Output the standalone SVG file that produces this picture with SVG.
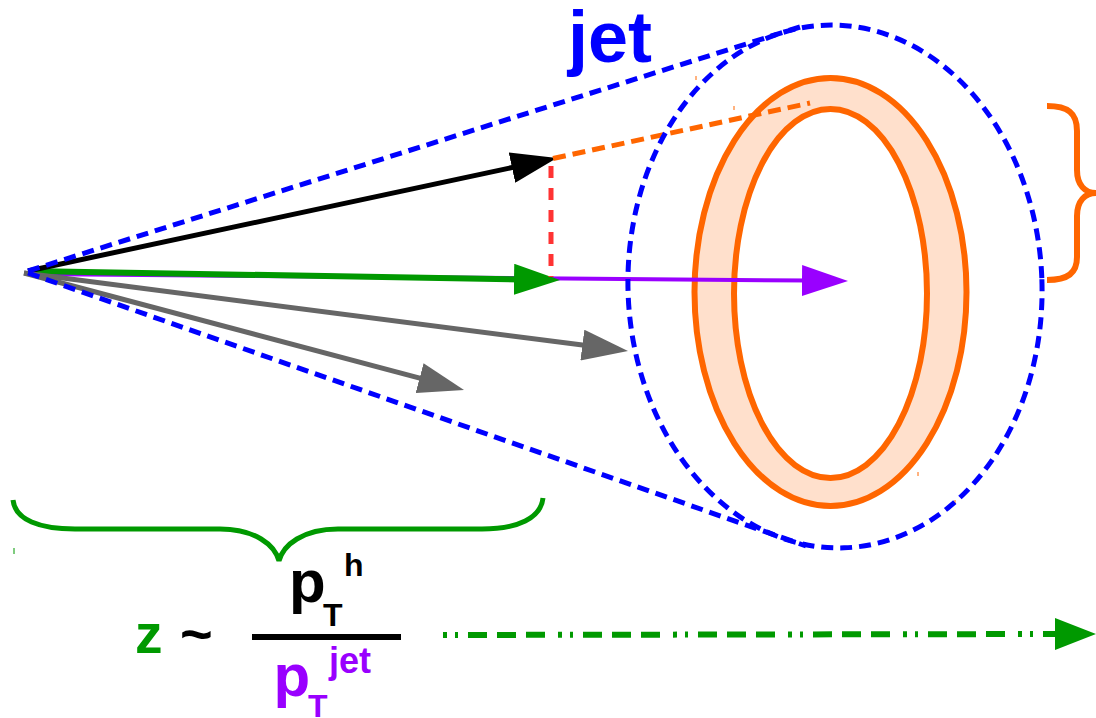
<svg xmlns="http://www.w3.org/2000/svg" width="1096" height="718" viewBox="0 0 1096 718">
<style>
  .blue { fill: none; stroke: #0000ff; stroke-width: 5; stroke-dasharray: 12 7; }
  .ring { stroke: #ff6600; stroke-width: 6; }
  .t { font-family: "Liberation Sans", Arial, sans-serif; font-weight: bold; }
</style>
<defs>
  <marker id="hBlack" markerUnits="userSpaceOnUse" markerWidth="46" markerHeight="31" viewBox="0 0 46 31" refX="8" refY="15.5" orient="auto"><path d="M0,0 L46,15.5 L0,31 Z" fill="#000000"/></marker>
  <marker id="hGreen" markerUnits="userSpaceOnUse" markerWidth="46" markerHeight="31" viewBox="0 0 46 31" refX="8" refY="15.5" orient="auto"><path d="M0,0 L46,15.5 L0,31 Z" fill="#009900"/></marker>
  <marker id="hPurple" markerUnits="userSpaceOnUse" markerWidth="46" markerHeight="31" viewBox="0 0 46 31" refX="8" refY="15.5" orient="auto"><path d="M0,0 L46,15.5 L0,31 Z" fill="#9900ff"/></marker>
  <marker id="hGray" markerUnits="userSpaceOnUse" markerWidth="46" markerHeight="31" viewBox="0 0 46 31" refX="8" refY="15.5" orient="auto"><path d="M0,0 L46,15.5 L0,31 Z" fill="#666666"/></marker>
  <marker id="hGreenBig" markerUnits="userSpaceOnUse" markerWidth="41" markerHeight="32" viewBox="0 0 41 32" refX="6" refY="16" orient="auto"><path d="M0,0 L41,16 L0,32 Z" fill="#009900"/></marker>
</defs>
<rect width="1096" height="718" fill="#ffffff"/>

<g id="ring">
  <ellipse class="ring" cx="830.5" cy="292" rx="136" ry="214" fill="#ffe0cc"/>
  <ellipse class="ring" cx="830.5" cy="293.5" rx="96.5" ry="184.5" fill="#ffffff"/>
  <g stroke="#ff6600" stroke-width="1">
    <line x1="696" y1="76" x2="696" y2="80"/>
    <line x1="734" y1="106" x2="734" y2="110"/>
    <line x1="918" y1="472" x2="918" y2="476"/>
    <line x1="955" y1="500" x2="955" y2="504"/>
  </g>
</g>

<g id="connectors">
  <line id="jet-axis" x1="28" y1="274" x2="810" y2="280.6" stroke="#9900ff" stroke-width="4" marker-end="url(#hPurple)"/>
  <line id="hadron-proj" x1="28" y1="271" x2="522" y2="279.4" stroke="#009900" stroke-width="6" marker-end="url(#hGreen)"/>
  <line id="hadron" x1="28" y1="271" x2="519.8" y2="165.9" stroke="#000000" stroke-width="5" marker-end="url(#hBlack)"/>
  <line id="gray1" x1="24" y1="273" x2="590.3" y2="346.1" stroke="#666666" stroke-width="5" marker-end="url(#hGray)"/>
  <line id="gray2" x1="24" y1="273" x2="427.3" y2="380.2" stroke="#666666" stroke-width="5" marker-end="url(#hGray)"/>
  <line id="red-proj" x1="551" y1="166" x2="551" y2="277" stroke="#ff3333" stroke-width="5" stroke-dasharray="12 10"/>
  <line id="orange-ext" x1="553" y1="158.5" x2="810" y2="103" stroke="#ff6600" stroke-width="5" stroke-dasharray="13 7"/>
  <line id="z-arrow" x1="443" y1="635" x2="1061" y2="634" stroke="#009900" stroke-width="6" stroke-dasharray="4 8 3 10 19 10 19 10 19 13" marker-end="url(#hGreenBig)"/>
</g>

<g id="jet-cone">
  <ellipse class="blue" cx="835" cy="286.5" rx="207" ry="261.5" transform="rotate(-2 835 286.5)"/>
  <line class="blue" x1="28" y1="271" x2="800" y2="27"/>
  <line class="blue" x1="28" y1="273" x2="806" y2="546"/>
</g>

<g id="jet-label">
  <text class="t" x="568" y="62" font-size="72" fill="#0000ff">jet</text>
</g>

<g id="orange-brace">
  <path d="M1047,106 C1068,106 1077,113 1077,131 L1077,170 C1077,185 1085,193 1096,193 C1085,193 1077,201 1077,216 L1077,257 C1077,273 1068,280 1047,280" fill="none" stroke="#ff6600" stroke-width="6"/>
</g>

<g id="green-brace">
  <path d="M13,500 C15,520 40,529 75,529 L220,529 C255,529 275,545 279,561 C283,545 303,529 338,529 L482,529 C518,529 541,518 543,498" fill="none" stroke="#009900" stroke-width="5"/>
  <line x1="14" y1="548" x2="14" y2="554" stroke="#009900" stroke-width="1"/>
</g>

<g id="formula">
  <text class="t" x="135" y="653" font-size="55" fill="#009900">z</text>
  <text class="t" x="180" y="653" font-size="56" fill="#000000">~</text>
  <text class="t" x="289" y="602" font-size="60" fill="#000000">p</text>
  <text class="t" x="323" y="626" font-size="32" fill="#000000">T</text>
  <text class="t" x="344" y="576" font-size="32" fill="#000000">h</text>
  <line x1="252" y1="637" x2="401" y2="637" stroke="#000000" stroke-width="6"/>
  <text class="t" x="273.5" y="696" font-size="60" fill="#9900ff">p</text>
  <text class="t" x="308" y="717" font-size="32" fill="#9900ff">T</text>
  <text class="t" x="329" y="673" font-size="36" fill="#9900ff">jet</text>
</g>
</svg>
